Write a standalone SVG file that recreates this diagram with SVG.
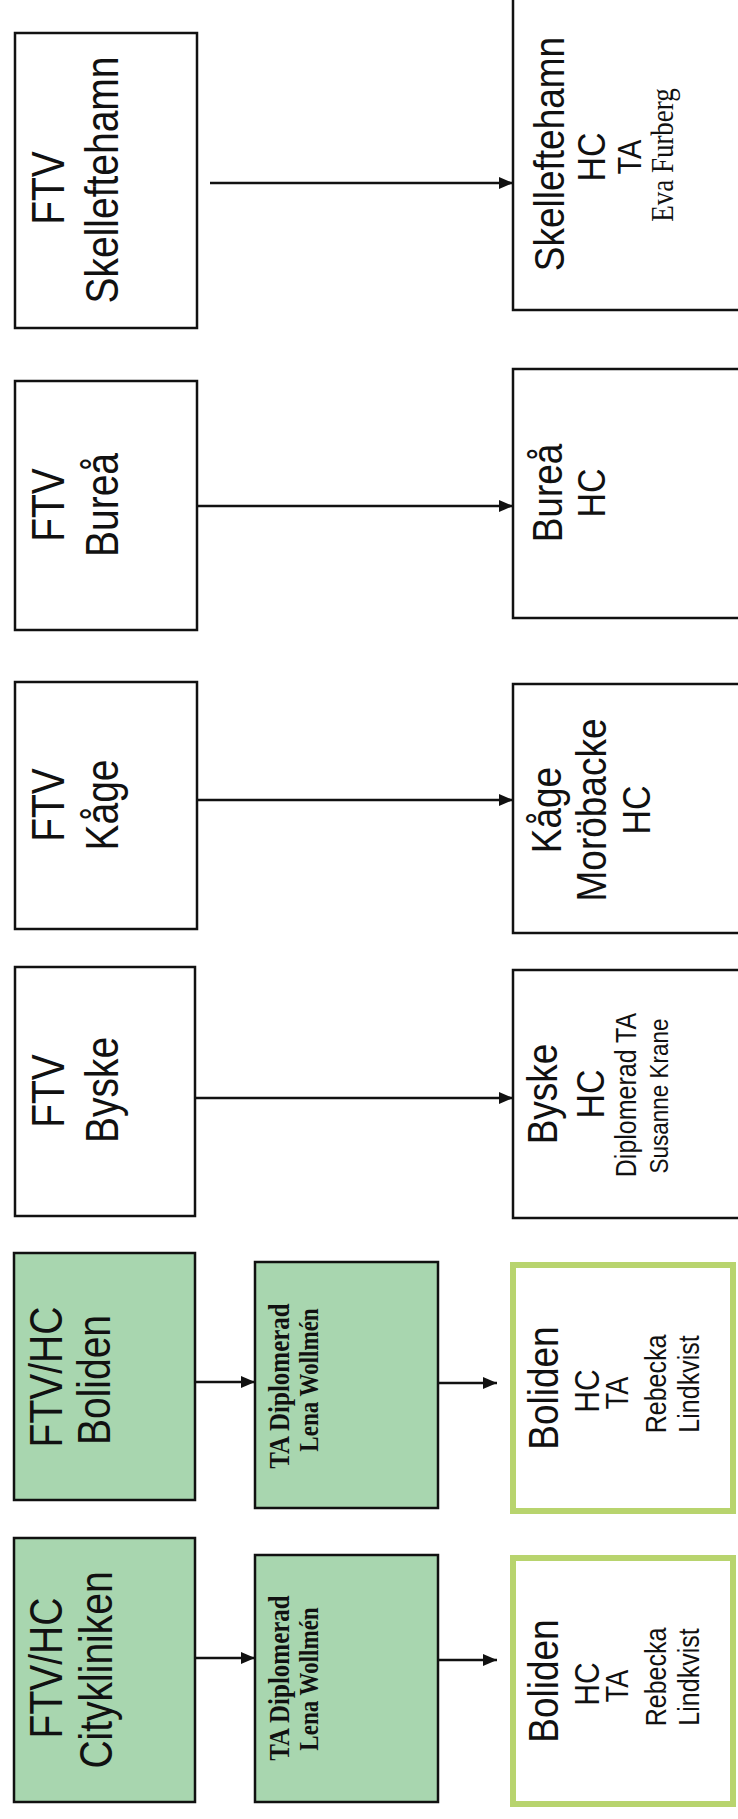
<svg xmlns="http://www.w3.org/2000/svg" width="738" height="1819" viewBox="0 0 738 1819">
<defs>
<style>
.box{fill:#fff;stroke:#111;stroke-width:2.5}
.gbox{fill:#a8d6af;stroke:#111;stroke-width:2.5}
.gframe{fill:#fff;stroke:#b8d46e;stroke-width:6}
.s{font-family:"Liberation Sans",Arial,sans-serif;fill:#111;text-anchor:middle}
.r{font-family:"Liberation Serif","Times New Roman",serif;fill:#111;text-anchor:middle}
.b{font-size:39px}
.conn line{stroke:#111;stroke-width:2.4}
</style>
<marker id="ah" markerWidth="14" markerHeight="12" refX="14" refY="6" orient="auto" markerUnits="userSpaceOnUse">
<path d="M0,0 L14,6 L0,12 Z" fill="#111"/>
</marker>
</defs>
<rect x="0" y="0" width="738" height="1819" fill="#fff"/>
<rect x="640" y="0" width="98" height="3" fill="#a0a0a0"/>

<g id="ftv-skelleftehamn">
<rect class="box" x="15" y="33" width="182" height="295"/>
<text class="s b" transform="translate(64,188) rotate(-90) scale(1,1.18)">FTV</text>
<text class="s b" transform="translate(118,180) rotate(-90) scale(1,1.18)">Skelleftehamn</text>
</g>
<g id="ftv-burea">
<rect class="box" x="15" y="381" width="182" height="249"/>
<text class="s b" transform="translate(64,505) rotate(-90) scale(1,1.18)">FTV</text>
<text class="s b" transform="translate(118,505) rotate(-90) scale(1,1.18)">Bureå</text>
</g>
<g id="ftv-kage">
<rect class="box" x="15" y="682" width="182" height="247"/>
<text class="s b" transform="translate(64,805) rotate(-90) scale(1,1.18)">FTV</text>
<text class="s b" transform="translate(118,805) rotate(-90) scale(1,1.18)">Kåge</text>
</g>
<g id="ftv-byske">
<rect class="box" x="15" y="967" width="180" height="249"/>
<text class="s b" transform="translate(64,1091) rotate(-90) scale(1,1.18)">FTV</text>
<text class="s b" transform="translate(118,1090) rotate(-90) scale(1,1.18)">Byske</text>
</g>
<g id="ftvhc-boliden">
<rect class="gbox" x="14" y="1253" width="181" height="247"/>
<text class="s b" transform="translate(62,1377) rotate(-90) scale(1,1.18)">FTV/HC</text>
<text class="s b" transform="translate(110,1380) rotate(-90) scale(1,1.18)">Boliden</text>
</g>
<g id="ftvhc-citykliniken">
<rect class="gbox" x="14" y="1538" width="181" height="264"/>
<text class="s b" transform="translate(62,1668) rotate(-90) scale(1,1.18)">FTV/HC</text>
<text class="s b" transform="translate(112,1670) rotate(-90) scale(1,1.18)">Citykliniken</text>
</g>

<g id="ta-boliden">
<rect class="gbox" x="255" y="1262" width="183" height="246"/>
<text class="r" font-weight="bold" font-size="25" transform="translate(289,1386) rotate(-90) scale(1,1.18)">TA Diplomerad</text>
<text class="r" font-weight="bold" font-size="23" transform="translate(318,1380) rotate(-90) scale(1,1.18)">Lena Wollmén</text>
</g>
<g id="ta-citykliniken">
<rect class="gbox" x="255" y="1555" width="183" height="247"/>
<text class="r" font-weight="bold" font-size="25" transform="translate(289,1678) rotate(-90) scale(1,1.18)">TA Diplomerad</text>
<text class="r" font-weight="bold" font-size="23" transform="translate(318,1679) rotate(-90) scale(1,1.18)">Lena Wollmén</text>
</g>

<g id="hc-skelleftehamn">
<rect class="box" x="513" y="-5" width="240" height="315"/>
<text class="s" font-size="37" transform="translate(564,154) rotate(-90) scale(1,1.15)">Skelleftehamn</text>
<text class="s" font-size="34" transform="translate(605,157) rotate(-90) scale(1,1.15)">HC</text>
<text class="s" font-size="29" transform="translate(641,157) rotate(-90) scale(1,1.15)">TA</text>
<text class="r" font-size="27" transform="translate(673,155) rotate(-90) scale(1,1.15)">Eva Furberg</text>
</g>
<g id="hc-burea">
<rect class="box" x="513" y="369" width="240" height="249"/>
<text class="s" font-size="37" transform="translate(562,493) rotate(-90) scale(1,1.15)">Bureå</text>
<text class="s" font-size="34" transform="translate(605,493) rotate(-90) scale(1,1.15)">HC</text>
</g>
<g id="hc-kage">
<rect class="box" x="513" y="684" width="240" height="249"/>
<text class="s" font-size="37" transform="translate(561,810) rotate(-90) scale(1,1.15)">Kåge</text>
<text class="s" font-size="37" transform="translate(606,810) rotate(-90) scale(1,1.15)">Moröbacke</text>
<text class="s" font-size="34" transform="translate(650,810) rotate(-90) scale(1,1.15)">HC</text>
</g>
<g id="hc-byske">
<rect class="box" x="513" y="970" width="240" height="248"/>
<text class="s" font-size="37" transform="translate(557,1094) rotate(-90) scale(1,1.15)">Byske</text>
<text class="s" font-size="34" transform="translate(604,1094) rotate(-90) scale(1,1.15)">HC</text>
<text class="s" font-size="25" transform="translate(636,1095) rotate(-90) scale(1,1.15)">Diplomerad TA</text>
<text class="s" font-size="22.5" transform="translate(668,1096) rotate(-90) scale(1,1.15)">Susanne Krane</text>
</g>
<g id="hc-boliden">
<rect class="gframe" x="513" y="1265" width="220" height="246"/>
<text class="s" font-size="37" transform="translate(558,1388) rotate(-90) scale(1,1.15)">Boliden</text>
<text class="s" font-size="30" transform="translate(599,1391) rotate(-90) scale(1,1.15)">HC</text>
<text class="s" font-size="27" transform="translate(628,1393) rotate(-90) scale(1,1.15)">TA</text>
<text class="s" font-size="25" transform="translate(666,1384) rotate(-90) scale(1,1.15)">Rebecka</text>
<text class="s" font-size="25" transform="translate(699,1384) rotate(-90) scale(1,1.15)">Lindkvist</text>
</g>
<g id="hc-boliden-city">
<rect class="gframe" x="513" y="1558" width="220" height="246"/>
<text class="s" font-size="37" transform="translate(558,1681) rotate(-90) scale(1,1.15)">Boliden</text>
<text class="s" font-size="30" transform="translate(599,1684) rotate(-90) scale(1,1.15)">HC</text>
<text class="s" font-size="27" transform="translate(628,1686) rotate(-90) scale(1,1.15)">TA</text>
<text class="s" font-size="25" transform="translate(666,1677) rotate(-90) scale(1,1.15)">Rebecka</text>
<text class="s" font-size="25" transform="translate(699,1677) rotate(-90) scale(1,1.15)">Lindkvist</text>
</g>

<g id="connectors" class="conn">
<line x1="210" y1="183" x2="513" y2="183" marker-end="url(#ah)"/>
<line x1="197" y1="506" x2="513" y2="506" marker-end="url(#ah)"/>
<line x1="197" y1="800" x2="513" y2="800" marker-end="url(#ah)"/>
<line x1="195" y1="1098" x2="513" y2="1098" marker-end="url(#ah)"/>
<line x1="195" y1="1382" x2="255" y2="1382" marker-end="url(#ah)"/>
<line x1="438" y1="1383" x2="497" y2="1383" marker-end="url(#ah)"/>
<line x1="195" y1="1658" x2="255" y2="1658" marker-end="url(#ah)"/>
<line x1="438" y1="1660" x2="497" y2="1660" marker-end="url(#ah)"/>
</g>
</svg>
